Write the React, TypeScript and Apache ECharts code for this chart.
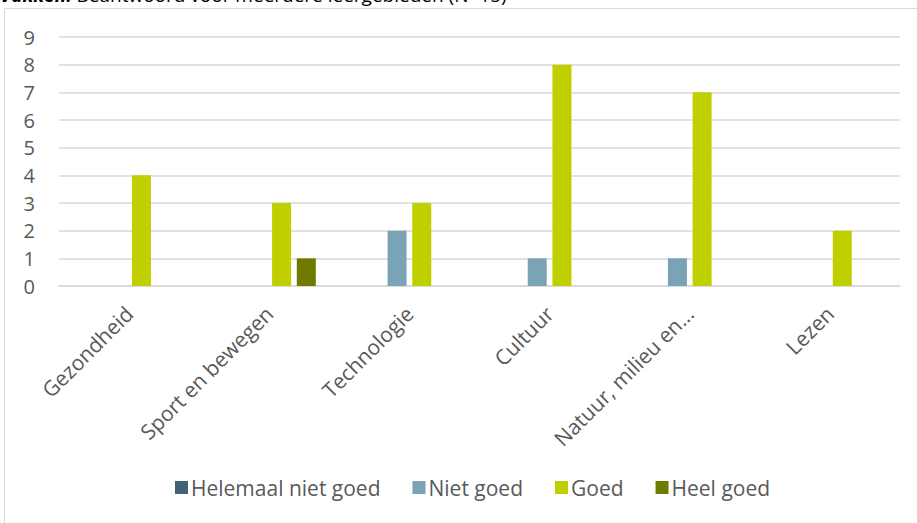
import React, { useEffect, useRef } from "react";
import * as echarts from "echarts";

const categories = ["Gezondheid", "Sport en bewegen", "Technologie", "Cultuur", "Natuur, milieu en...", "Lezen"];
const seriesNames = ["Helemaal niet goed", "Niet goed", "Goed", "Heel goed"];
const helemaalNietGoed = [0, 0, 0, 0, 0, 0];
const nietGoed = [0, 0, 2, 1, 1, 0];
const goed = [4, 3, 3, 8, 7, 2];
const heelGoed = [0, 1, 0, 0, 0, 0];
const colors = ["#3E6374", "#7AA3B5", "#C0CF00", "#717A00"];
const titleLead = "Vakken:";
const titleRest = " Beantwoord voor meerdere leergebieden (N=15)";

export default function App() {
  const ref = useRef<HTMLDivElement>(null);
  useEffect(() => {
    document.body.style.margin = "0";
    const chart = echarts.init(ref.current!, null, { renderer: "svg" });
    const values = [helemaalNietGoed, nietGoed, goed, heelGoed];
    const font = "'Open Sans', 'Noto Sans', sans-serif";
    chart.setOption({
      animation: false,
      backgroundColor: "#ffffff",
      textStyle: { fontFamily: font },
      graphic: [
        {
          type: "rect",
          shape: { x: 4.5, y: 8.5, width: 930, height: 530 },
          style: { fill: "none", stroke: "#d9d9d9", lineWidth: 1 },
          silent: true,
        },
        {
          type: "text",
          left: 0,
          top: -15,
          style: {
            text: "{b|" + titleLead + "}{n|" + titleRest + "}",
            rich: {
              b: { font: "bold italic 19px " + font, fill: "#000000" },
              n: { font: "19px " + font, fill: "#000000" },
            },
            font: "19px " + font,
            fill: "#000000",
          },
        },
      ],
      grid: { left: 59, right: 17, top: 37, bottom: 237, containLabel: false },
      legend: {
        bottom: 20,
        left: 170,
        itemWidth: 13,
        itemHeight: 13,
        itemGap: 32,
        icon: "rect",
        textStyle: { fontSize: 21, color: "#595959", fontFamily: font, padding: [0, 0, 0, -2] },
        data: seriesNames,
      },
      xAxis: {
        type: "category",
        data: categories,
        axisTick: { show: false },
        axisLine: { show: true, lineStyle: { color: "#d9d9d9", width: 1.5 } },
        axisLabel: {
          rotate: 45,
          interval: 0,
          fontSize: 21,
          color: "#595959",
          margin: 24,
          fontFamily: font,
        },
      },
      yAxis: {
        type: "value",
        min: 0,
        max: 9,
        interval: 1,
        axisLine: { show: false },
        axisTick: { show: false },
        splitLine: { lineStyle: { color: "#d9d9d9", width: 1.5 } },
        axisLabel: { fontSize: 20, color: "#595959", margin: 24, fontFamily: font },
      },
      series: seriesNames.map((name, i) => ({
        name,
        type: "bar",
        data: values[i],
        barWidth: 19,
        barGap: "30%",
        itemStyle: { color: colors[i] },
      })),
    });
    return () => chart.dispose();
  }, []);
  return <div ref={ref} style={{ position: "absolute", left: 0, top: 0, width: 917, height: 523 }} />;
}
